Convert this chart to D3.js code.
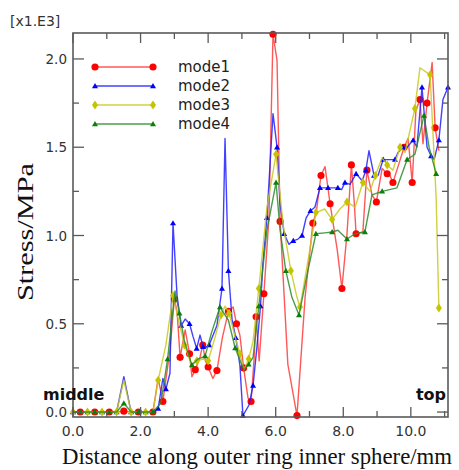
<!DOCTYPE html>
<html>
<head>
<meta charset="utf-8">
<script src="https://cdn.jsdelivr.net/npm/d3@7"></script>
<style>
  body { margin: 0; background: #fff; }
  svg { display: block; }
</style>
</head>
<body>
<svg id="chart" width="459" height="470"></svg>
<script>
'use strict';

// - data: [distance mm, stress MPa]
var mode1 = [
	[0,0],[0.215,0],[0.43,0],[0.645,0],[0.86,0],[1.075,0],[1.29,0],[1.505,5],[1.72,0],[1.935,0],[2.15,0],[2.365,0],
	[2.52,190],[2.66,60],[2.87,350],[3.0,640],[3.08,570],[3.17,310],[3.32,465],[3.45,330],[3.52,200],[3.62,240],
	[3.76,310],[3.84,380],[3.92,290],[4.0,255],[4.14,190],[4.26,235],[4.42,420],[4.6,570],[4.74,595],[4.84,500],
	[4.94,436],[5.05,250],[5.18,80],[5.27,60],[5.36,300],[5.42,540],[5.51,290],[5.65,670],[5.8,1100],[5.92,2140],
	[6.04,1990],[6.13,1080],[6.36,270],[6.63,-20],[6.87,650],[7.1,1070],[7.2,1130],[7.34,1340],[7.46,1390],[7.61,1180],
	[7.82,920],[7.96,700],[8.11,1010],[8.24,1400],[8.32,1200],[8.38,1010],[8.58,1020],[8.70,1370],[8.85,1230],[8.98,1190],
	[9.15,1380],[9.3,1350],[9.38,1340],[9.47,1300],[9.62,1390],[9.8,1500],[9.92,1550],[10.04,1300],[10.15,1710],[10.27,1770],
	[10.36,1520],[10.48,1750],[10.63,1980],[10.72,1610],[10.83,1480]
];

var mode2 = [
	[0,0],[0.215,0],[0.43,0],[0.645,0],[0.86,0],[1.075,0],[1.29,0],[1.505,200],[1.72,0],[1.935,0],[2.15,0],[2.365,0],
	[2.52,20],[2.66,190],[2.75,130],[2.87,220],[2.96,1070],[3.08,660],[3.2,490],[3.32,527],[3.45,500],[3.55,430],
	[3.66,360],[3.76,436],[3.85,370],[3.91,363],[4.03,380],[4.26,490],[4.41,700],[4.50,1550],[4.60,800],[4.71,520],
	[4.82,420],[4.94,266],[5.03,-20],[5.21,40],[5.33,150],[5.45,380],[5.55,600],[5.62,840],[5.74,1100],[5.92,1690],
	[6.04,1500],[6.13,1180],[6.25,1010],[6.39,950],[6.52,970],[6.66,980],[6.78,1000],[6.90,1100],[7.03,1140],[7.16,1160],
	[7.31,1270],[7.43,1270],[7.55,1270],[7.70,1270],[7.84,1270],[7.95,1260],[8.05,1300],[8.20,1290],[8.38,1350],[8.56,1310],
	[8.67,1370],[8.76,1480],[8.91,1340],[9.03,1340],[9.18,1430],[9.32,1430],[9.53,1430],[9.62,1470],[9.77,1500],[9.89,1500],
	[10.07,1540],[10.18,1500],[10.33,1840],[10.48,1500],[10.6,1450],[10.69,1430],[10.83,1540],[10.95,1770],[11.10,1840]
];

var mode3 = [
	[0,0],[0.215,0],[0.43,0],[0.645,0],[0.86,0],[1.075,0],[1.29,0],[1.505,180],[1.72,0],[1.935,0],[2.15,0],[2.365,0],
	[2.52,180],[2.75,380],[2.96,660],[3.1,540],[3.3,380],[3.5,270],[3.67,290],[3.85,300],[4.0,290],[4.2,420],
	[4.38,550],[4.5,600],[4.62,560],[4.80,425],[4.94,330],[5.06,240],[5.2,300],[5.33,400],[5.5,700],[5.74,1160],
	[6.01,1460],[6.22,1060],[6.45,800],[6.63,650],[6.72,595],[6.95,850],[7.19,1130],[7.45,1150],[7.67,1090],[7.9,1150],
	[8.11,1190],[8.35,1160],[8.58,1300],[8.79,1250],[8.95,1340],[9.15,1440],[9.30,1400],[9.47,1370],[9.68,1500],[9.83,1470],
	[10.12,1720],[10.27,1950],[10.57,1910],[10.75,1210],[10.83,590]
];

var mode4 = [
	[0,0],[0.215,0],[0.43,0],[0.645,0],[0.86,0],[1.075,0],[1.29,0],[1.505,50],[1.72,0],[1.935,0],[2.15,0],[2.365,0],
	[2.6,50],[2.8,300],[3.02,686],[3.15,560],[3.3,400],[3.52,266],[3.7,300],[3.91,317],[4.1,450],[4.35,595],
	[4.6,520],[4.80,363],[5.06,238],[5.2,270],[5.33,310],[5.5,600],[5.74,1030],[6.01,1300],[6.13,1030],[6.3,800],
	[6.48,650],[6.69,550],[6.95,800],[7.19,1010],[7.45,1015],[7.67,1020],[7.84,1030],[8.11,980],[8.35,1010],[8.64,1020],
	[8.85,1230],[9.15,1250],[9.59,1270],[9.89,1430],[10.12,1460],[10.39,1680],[10.54,1500],[10.75,1350]
];

var seriesNames = ['mode1', 'mode2', 'mode3', 'mode4'];
var xMajorTicks = [0, 2, 4, 6, 8, 10];
var xMinorTicks = [1, 3, 5, 7, 9, 11];
var yMajorTicks = [0, 500, 1000, 1500, 2000];
var yMinorTicks = [250, 750, 1250, 1750];

// - styling per series (not data)
var styles = [
	{ data: mode1, color: '#ff0000', line: '#ff3b3b', shape: 'circle',   off: 1 },
	{ data: mode2, color: '#0000ff', line: '#2020ff', shape: 'triangle', off: 0 },
	{ data: mode3, color: '#c4c400', line: '#c8c820', shape: 'diamond',  off: 0 },
	{ data: mode4, color: '#0a800a', line: '#2a8c2a', shape: 'triangle', off: 1 }
];

var svg = d3.select('#chart');

var x = d3.scaleLinear().domain([0, 11.1]).range([73, 448]);
var y = d3.scaleLinear().domain([-28, 2147]).range([417, 33]);

var L = 73, R = 448, T = 33, B = 417;
var axisColor = '#5a5a5a';
var sans = 'DejaVu Sans, Verdana, sans-serif';
var serif = 'Liberation Serif, Times New Roman, serif';

var markerPath = function(shape)
{
	if (shape == 'circle')
		return d3.symbol().type(d3.symbolCircle).size(40)();
	if (shape == 'triangle')
		return 'M0,-3L3,2.2L-3,2.2Z';
	// tall diamond
	return 'M0,-4.5L3,0L0,4.5L-3,0Z';
};

// - series lines and markers
var line = d3.line().x(d => x(d[0])).y(d => y(d[1]));

styles.forEach((s) =>
{
	svg.append('path')
		.attr('d', line(s.data))
		.attr('fill', 'none')
		.attr('stroke', s.line)
		.attr('stroke-opacity', 0.85)
		.attr('stroke-width', 1.4)
		.attr('stroke-linejoin', 'round');

	svg.append('g').selectAll('path')
		.data(s.data.filter((d, i) => i % 2 == s.off))
		.join('path')
			.attr('d', markerPath(s.shape))
			.attr('transform', d => `translate(${x(d[0])},${y(d[1])})`)
			.attr('fill', s.color);
});

// - frame
svg.append('rect')
	.attr('x', L).attr('y', T)
	.attr('width', R - L).attr('height', B - T)
	.attr('fill', 'none')
	.attr('stroke', axisColor)
	.attr('stroke-width', 1.6);

var ticks = svg.append('g').attr('stroke', axisColor).attr('stroke-width', 1.3);

var vTick = function(v, len)
{
	ticks.append('line').attr('x1', x(v)).attr('x2', x(v)).attr('y1', B).attr('y2', B - len);
	ticks.append('line').attr('x1', x(v)).attr('x2', x(v)).attr('y1', T).attr('y2', T + len);
};
var hTick = function(v, len)
{
	ticks.append('line').attr('y1', y(v)).attr('y2', y(v)).attr('x1', L).attr('x2', L + len);
	ticks.append('line').attr('y1', y(v)).attr('y2', y(v)).attr('x1', R).attr('x2', R - len);
};

xMajorTicks.forEach(v => vTick(v, 10));
xMinorTicks.forEach(v => vTick(v, 6));
yMajorTicks.forEach(v => hTick(v, 11));
yMinorTicks.forEach(v => hTick(v, 6));

// - tick labels
svg.append('g').selectAll('text')
	.data(xMajorTicks)
	.join('text')
		.attr('x', d => x(d))
		.attr('y', 436)
		.attr('text-anchor', 'middle')
		.attr('font-family', sans)
		.attr('font-size', 14)
		.attr('fill', '#333')
		.text(d => d.toFixed(1));

svg.append('g').selectAll('text')
	.data(yMajorTicks)
	.join('text')
		.attr('x', 67)
		.attr('y', d => y(d) + 5)
		.attr('text-anchor', 'end')
		.attr('font-family', sans)
		.attr('font-size', 13.5)
		.attr('fill', '#333')
		.text(d => (d / 1000).toFixed(1));

svg.append('text')
	.attr('x', 10).attr('y', 26)
	.attr('font-family', sans).attr('font-size', 14).attr('fill', '#333')
	.text('[x1.E3]');

// - axis titles
svg.append('text')
	.attr('x', 257).attr('y', 464)
	.attr('text-anchor', 'middle')
	.attr('font-family', serif).attr('font-size', 22.5).attr('fill', '#111')
	.attr('textLength', 390).attr('lengthAdjust', 'spacingAndGlyphs')
	.text('Distance along outer ring inner sphere/mm');

svg.append('text')
	.attr('transform', 'translate(33,232) rotate(-90)')
	.attr('text-anchor', 'middle')
	.attr('font-family', serif).attr('font-size', 23).attr('fill', '#111')
	.attr('textLength', 138).attr('lengthAdjust', 'spacingAndGlyphs')
	.text('Stress/MPa');

// - end annotations
svg.append('text')
	.attr('x', 43).attr('y', 400)
	.attr('font-family', sans).attr('font-weight', 'bold').attr('font-size', 16).attr('fill', '#111')
	.text('middle');

svg.append('text')
	.attr('x', 446).attr('y', 400)
	.attr('text-anchor', 'end')
	.attr('font-family', sans).attr('font-weight', 'bold').attr('font-size', 16).attr('fill', '#111')
	.text('top');

// - legend
var legend = svg.append('g');
styles.forEach((s, i) =>
{
	let ly = 67 + i * 19;
	legend.append('line')
		.attr('x1', 95).attr('x2', 153).attr('y1', ly).attr('y2', ly)
		.attr('stroke', s.line).attr('stroke-width', 1.4).attr('stroke-opacity', 0.85);
	[95, 153].forEach(lx =>
	{
		legend.append('path')
			.attr('d', markerPath(s.shape))
			.attr('transform', `translate(${lx},${ly})`)
			.attr('fill', s.color);
	});
	legend.append('text')
		.attr('x', 178).attr('y', ly + 5)
		.attr('font-family', sans).attr('font-size', 15).attr('fill', '#222')
		.text(seriesNames[i]);
});
</script>
</body>
</html>
